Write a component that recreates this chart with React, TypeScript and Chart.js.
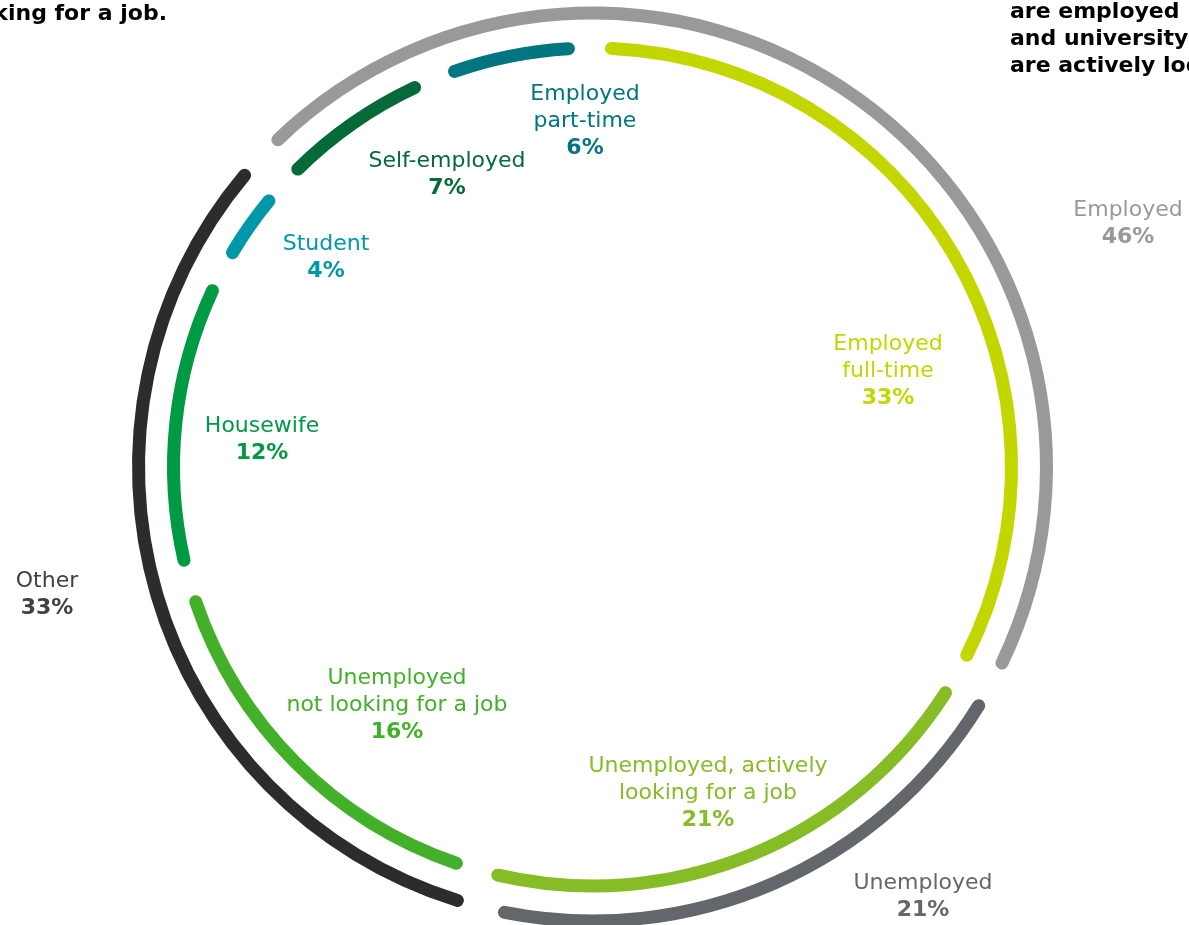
import { useEffect, useRef } from 'react';
import { Chart, registerables } from 'chart.js';

Chart.register(...registerables);

// ---- data ----
const innerCategories: string[][] = [
  ['Employed', 'full-time'],
  ['Unemployed, actively', 'looking for a job'],
  ['Unemployed', 'not looking for a job'],
  ['Housewife'],
  ['Student'],
  ['Self-employed'],
  ['Employed', 'part-time'],
];
const innerValues = [33, 21, 16, 12, 4, 7, 6];

const outerCategories: string[][] = [['Employed'], ['Unemployed'], ['Other']];
const outerValues = [46, 21, 33];

const noteLeft = ['looking for a job.'];
const noteRight = ['are employed', 'and university', 'are actively looking'];

// ---- styling / layout ----
// each segment keeps its full share of the circle; a fixed gap (in % units) is cut from its end
const innerGap = 1.13;
const outerGap = 1.25;
const innerColors = ['#c4d600', '#86bc25', '#43b02a', '#009a44', '#0097a9', '#046a38', '#007680'];
const outerColors = ['#97999b', '#63666a', '#2b2c2e'];
const outerTextColors = ['#97999b', '#63666a', '#404040'];
const innerLabelPos = [
  [888, 344],
  [708, 766],
  [397, 678],
  [262, 426],
  [326, 244],
  [447, 161],
  [585, 94],
];
const outerLabelPos = [
  [1128, 210],
  [923, 883],
  [47, 581],
];
const FONT = '"DejaVu Sans", Verdana, sans-serif';
const LINE = 27.3;
const TRANSPARENT = 'rgba(0,0,0,0)';

function withGaps(values: number[], gap: number) {
  return values.flatMap((v) => [v - gap, gap]);
}
function colorsWithGaps(colors: string[]) {
  return colors.flatMap((c) => [c, TRANSPARENT]);
}

const labelPlugin = {
  id: 'ringLabels',
  afterDraw(chart: any) {
    const ctx: CanvasRenderingContext2D = chart.ctx;
    ctx.save();
    ctx.textAlign = 'center';
    ctx.textBaseline = 'middle';
    const drawBlock = (lines: string[], value: number, x: number, y: number, color: string) => {
      ctx.fillStyle = color;
      ctx.font = `22px ${FONT}`;
      lines.forEach((l, j) => ctx.fillText(l, x, y + j * LINE));
      ctx.font = `bold 22px ${FONT}`;
      ctx.fillText(`${value}%`, x, y + lines.length * LINE);
    };
    innerCategories.forEach((lines, i) => {
      const [x, y] = innerLabelPos[i];
      drawBlock(lines, innerValues[i], x, y, innerColors[i]);
    });
    outerCategories.forEach((lines, i) => {
      const [x, y] = outerLabelPos[i];
      drawBlock(lines, outerValues[i], x, y, outerTextColors[i]);
    });
    // clipped notes at the top
    ctx.fillStyle = '#000000';
    ctx.font = `bold 22px ${FONT}`;
    ctx.textAlign = 'right';
    noteLeft.forEach((l, j) => ctx.fillText(l, 167, 14 + j * LINE));
    ctx.textAlign = 'left';
    noteRight.forEach((l, j) => ctx.fillText(l, 1010, 12 + j * LINE));
    ctx.restore();
  },
};

export default function App() {
  const ref = useRef<HTMLCanvasElement | null>(null);
  useEffect(() => {
    if (!ref.current) return;
    const chart = new Chart(ref.current, {
      type: 'doughnut',
      data: {
        labels: [],
        datasets: [
          {
            data: withGaps(outerValues, outerGap),
            backgroundColor: colorsWithGaps(outerColors),
            weight: 13,
            rotation: -44.7,
            clip: false,
          } as any,
          {
            data: [1],
            backgroundColor: [TRANSPARENT],
            weight: 22,
            clip: false,
          } as any,
          {
            data: withGaps(innerValues, innerGap),
            backgroundColor: colorsWithGaps(innerColors),
            weight: 13,
            rotation: 1.7,
            clip: false,
          } as any,
        ],
      },
      options: {
        responsive: false,
        animation: false,
        devicePixelRatio: 1,
        radius: 460.5,
        cutout: `${(412.5 / 460.5) * 100}%`,
        layout: { padding: { top: 9, right: 4, left: 0, bottom: 0 } },
        elements: { arc: { borderWidth: 0, borderRadius: 20 } },
        plugins: { legend: { display: false }, tooltip: { enabled: false } },
        events: [],
      } as any,
      plugins: [labelPlugin],
    });
    return () => chart.destroy();
  }, []);
  return (
    <div style={{ position: 'absolute', left: 0, top: 0, width: 1189, height: 925, background: '#ffffff', overflow: 'hidden' }}>
      <canvas ref={ref} width={1189} height={925} style={{ display: 'block' }} />
    </div>
  );
}
